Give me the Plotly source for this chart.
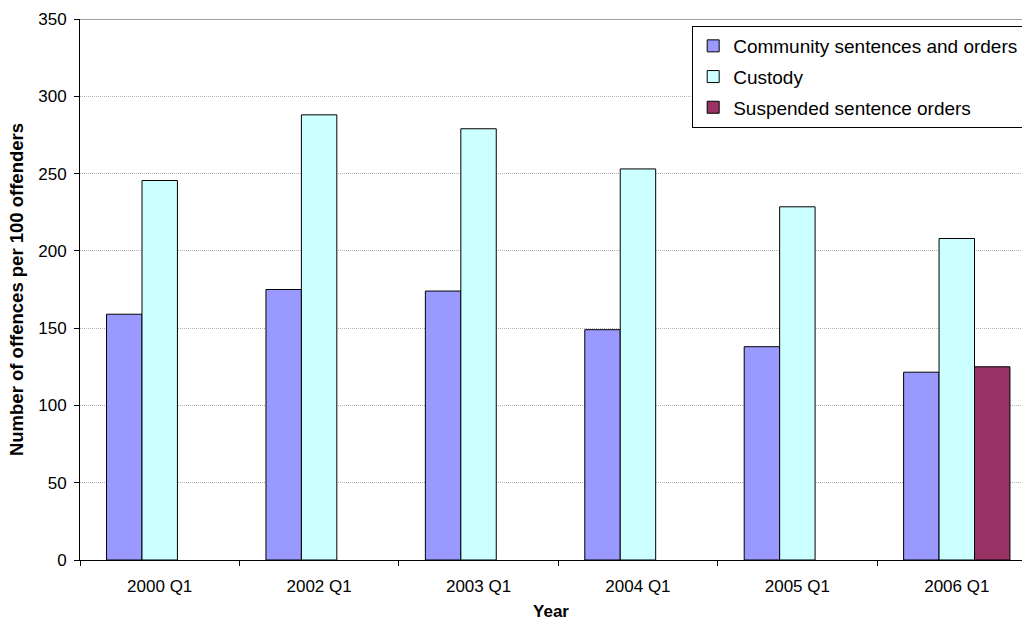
import plotly.graph_objects as go

years = ["2000 Q1", "2002 Q1", "2003 Q1", "2004 Q1", "2005 Q1", "2006 Q1"]
community = [159, 175, 174, 149, 138, 121.5]
custody = [245.5, 288, 279, 253, 228.5, 208]
suspended = [None, None, None, None, None, 125]

y_ticks = [0, 50, 100, 150, 200, 250, 300, 350]

FONT = "Arial, Liberation Sans, sans-serif"

series = [
    ("Community sentences and orders", community, "#9999FF"),
    ("Custody", custody, "#CCFFFF"),
    ("Suspended sentence orders", suspended, "#993366"),
]

fig = go.Figure()
for name, vals, color in series:
    fig.add_trace(go.Bar(
        x=years, y=vals, name=name, legendgroup=name,
        marker=dict(color=color, line=dict(color="#000000", width=1)),
    ))

W, H = 1022, 621
ML, MR, MT, MB = 79.5, 0, 19, 61
cat_px = 159.5
span = (W - ML - MR) / cat_px

fig.update_layout(
    width=W, height=H,
    margin=dict(l=ML, r=MR, t=MT, b=MB, autoexpand=False),
    paper_bgcolor="white", plot_bgcolor="white",
    font=dict(family=FONT, size=17, color="#000000"),
    barmode="group", bargap=0.333, bargroupgap=0,
    showlegend=True,
    legend=dict(
        x=(692 - ML) / (W - ML - MR), y=(560 - 26) / (560 - MT),
        xanchor="left", yanchor="top",
        bordercolor="#000000", borderwidth=1, bgcolor="white",
        font=dict(family=FONT, size=19, color="#000000"),
        traceorder="grouped", tracegroupgap=3,
    ),
    xaxis=dict(
        type="category", range=[-0.5, -0.5 + span],
        showline=True, linecolor="#000000", linewidth=1,
        ticks="outside", ticklen=5, tickcolor="#000000", tickson="boundaries",
        showgrid=False, tickfont=dict(size=17), ticklabelstandoff=11,
        title=dict(text="<b>Year</b>", font=dict(size=17), standoff=16),
    ),
    yaxis=dict(
        range=[0, 350], tickvals=y_ticks,
        showline=True, linecolor="#000000", linewidth=1,
        ticks="outside", ticklen=5, tickcolor="#000000",
        showgrid=True, gridcolor="#B4B4B4", griddash="1px,1px", gridwidth=1,
        zeroline=False, tickfont=dict(size=17), ticklabelstandoff=4,
        title=dict(text="<b>Number of offences per 100 offenders</b>",
                   font=dict(size=18.5), standoff=9),
    ),
    shapes=[dict(type="line", xref="paper", yref="y", x0=0, x1=1, y0=350, y1=350,
                 line=dict(color="#A0A0A0", width=2), layer="below")],
)

fig.write_html("out.html")
